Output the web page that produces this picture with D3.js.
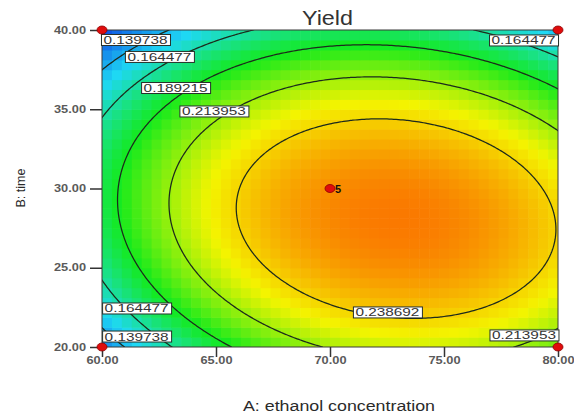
<!DOCTYPE html>
<html>
<head>
<meta charset="utf-8">
<script src="https://cdn.jsdelivr.net/npm/d3@7"></script>
<style>
  body { margin: 0; background: #fff; }
  svg { display: block; font-family: Arial, "Liberation Sans", sans-serif; }
</style>
</head>
<body>
<svg id="chart" width="574" height="418"></svg>
<script>
// Fitted quadratic response for Yield, in coded units:
// a = (A - 70) / 10, b = (B - 30) / 10
const modelTerms = ["Intercept", "A", "B", "AB", "A^2", "B^2"];
const modelCoefs = [0.2572, 0.0267, -0.0201, -0.0120, -0.0500, -0.0620];

// Contour levels drawn on the plot
const contourLevels = [0.139738, 0.164477, 0.189215, 0.213953, 0.238692];

// Axis ranges and ticks
const xDomain = [60, 80];
const yDomain = [20, 40];
const xTicks = [60, 65, 70, 75, 80];
const yTicks = [20, 25, 30, 35, 40];

// Design points (A, B) and replicate counts
const pointA = [60, 80, 60, 80, 70];
const pointB = [40, 40, 20, 20, 30];
const pointReps = [1, 1, 1, 1, 5];

// Contour label anchors: level shown, and where it sits (A, B)
const labelLevels = [0.139738, 0.164477, 0.189215, 0.213953, 0.164477, 0.164477, 0.139738, 0.238692, 0.213953];
const labelA = [61.49, 62.54, 63.25, 64.93, 78.51, 61.54, 61.54, 72.54, 78.53];
const labelB = [39.37, 38.30, 36.34, 34.86, 39.34, 22.43, 20.66, 22.18, 20.73];

const svg = d3.select("#chart");

const x = d3.scaleLinear().domain(xDomain).range([102, 558]);
const y = d3.scaleLinear().domain(yDomain).range([347, 30]);

function yieldAt(A, B) {
  const a = (A - 70) / 10, b = (B - 30) / 10, c = modelCoefs;
  return c[0] + c[1] * a + c[2] * b + c[3] * a * b + c[4] * a * a + c[5] * b * b;
}

// Blue -> cyan -> green -> yellow -> red ramp
const color = d3.scaleLinear()
  .domain([0.105, 0.15, 0.19, 0.23, 0.29])
  .range(["#0a28e0", "#1ed8f4", "#14ea1c", "#f4f400", "#ff1400"])
  .clamp(true);

const defs = svg.append("defs");
defs.append("clipPath").attr("id", "plotClip")
  .append("rect")
  .attr("x", x(xDomain[0])).attr("y", y(yDomain[1]))
  .attr("width", x(xDomain[1]) - x(xDomain[0]))
  .attr("height", y(yDomain[0]) - y(yDomain[1]));

// Shaded cells
const nCols = 46, nRows = 32;
const dA = (xDomain[1] - xDomain[0]) / nCols;
const dB = (yDomain[1] - yDomain[0]) / nRows;
const cells = [];
for (let j = 0; j < nRows; j++) {
  for (let i = 0; i < nCols; i++) {
    const A0 = xDomain[0] + i * dA, B0 = yDomain[0] + j * dB;
    cells.push({ A0, A1: A0 + dA, B0, B1: B0 + dB, v: yieldAt(A0 + dA / 2, B0 + dB / 2) });
  }
}
const fillG = svg.append("g").attr("clip-path", "url(#plotClip)");
fillG.selectAll("rect").data(cells).join("rect")
  .attr("x", d => x(d.A0))
  .attr("y", d => y(d.B1))
  .attr("width", d => x(d.A1) - x(d.A0) + 0.6)
  .attr("height", d => y(d.B0) - y(d.B1) + 0.6)
  .attr("fill", d => color(d.v));

// Contour lines from a fine grid of the model
const gn = 201, gm = 201;
const gridVals = new Array(gn * gm);
const stepA = (xDomain[1] - xDomain[0]) / (gn - 1);
const stepB = (yDomain[1] - yDomain[0]) / (gm - 1);
for (let j = 0; j < gm; j++) {
  for (let i = 0; i < gn; i++) {
    gridVals[j * gn + i] = yieldAt(xDomain[0] + i * stepA, yDomain[0] + j * stepB);
  }
}
const contours = d3.contours().size([gn, gm]).thresholds(contourLevels)(gridVals);
const proj = d3.geoTransform({
  point: function (gx, gy) {
    const A = xDomain[0] + (gx - 0.5) * stepA;
    const B = yDomain[0] + (gy - 0.5) * stepB;
    this.stream.point(x(A), y(B));
  }
});
const path = d3.geoPath(proj);
svg.append("g").attr("clip-path", "url(#plotClip)")
  .selectAll("path").data(contours).join("path")
  .attr("d", path)
  .attr("fill", "none")
  .attr("stroke", "#1c2a1c")
  .attr("stroke-width", 1.25);

// Plot frame
svg.append("rect")
  .attr("x", x(xDomain[0])).attr("y", y(yDomain[1]))
  .attr("width", x(xDomain[1]) - x(xDomain[0]))
  .attr("height", y(yDomain[0]) - y(yDomain[1]))
  .attr("fill", "none").attr("stroke", "#3a3a3a").attr("stroke-width", 1);

// Contour labels
const fmt = d3.format(".6f");
const labG = svg.append("g");
labelLevels.forEach((lv, k) => {
  const cx = x(labelA[k]), cy = y(labelB[k]);
  const g = labG.append("g").attr("transform", `translate(${cx},${cy})`);
  g.append("rect")
    .attr("x", -34.5).attr("y", -5.5).attr("width", 69).attr("height", 11)
    .attr("fill", "#fff").attr("stroke", "#26302a").attr("stroke-width", 1);
  g.append("text")
    .attr("x", -32.5).attr("y", 4)
    .attr("textLength", 64).attr("lengthAdjust", "spacingAndGlyphs")
    .attr("font-size", 11).attr("fill", "#333")
    .text(fmt(lv));
});

// Axes
const xAxis = d3.axisBottom(x).tickValues(xTicks).tickFormat(d3.format(".2f")).tickSize(10).tickSizeOuter(0);
const yAxis = d3.axisLeft(y).tickValues(yTicks).tickFormat(d3.format(".2f")).tickSize(12).tickSizeOuter(0);

const gx = svg.append("g").attr("transform", `translate(0,${y(yDomain[0])})`).call(xAxis);
const gy = svg.append("g").attr("transform", `translate(${x(xDomain[0])},0)`).call(yAxis);
[gx, gy].forEach(g => {
  g.select(".domain").remove();
  g.selectAll(".tick line").attr("stroke", "#333").attr("stroke-width", 1.5);
  g.selectAll(".tick text")
    .attr("font-family", "Arial, 'Liberation Sans', sans-serif")
    .attr("font-size", 10).attr("font-weight", "bold").attr("fill", "#5a5a5a")
    .attr("textLength", 32).attr("lengthAdjust", "spacingAndGlyphs");
});
gx.selectAll(".tick text").attr("dy", "0.6em").attr("y", 11);
gy.selectAll(".tick text").attr("x", -16);

// Design points
svg.append("g").selectAll("ellipse").data(pointA.map((a, k) => ({ A: a, B: pointB[k], n: pointReps[k] })))
  .join("ellipse")
  .attr("cx", d => x(d.A)).attr("cy", d => y(d.B))
  .attr("rx", 5).attr("ry", 4)
  .attr("fill", "#e00c0c").attr("stroke", "#8a0000").attr("stroke-width", 0.8);
svg.append("g").selectAll("text")
  .data(pointA.map((a, k) => ({ A: a, B: pointB[k], n: pointReps[k] })).filter(d => d.n > 1))
  .join("text")
  .attr("x", d => x(d.A) + 5).attr("y", d => y(d.B) + 4)
  .attr("font-size", 11).attr("font-weight", "bold").attr("fill", "#111")
  .text(d => d.n);

// Titles
svg.append("text")
  .attr("x", 327.5).attr("y", 25).attr("text-anchor", "middle")
  .attr("font-size", 20).attr("fill", "#333")
  .attr("textLength", 51).attr("lengthAdjust", "spacingAndGlyphs")
  .text("Yield");

svg.append("text")
  .attr("x", 339).attr("y", 411).attr("text-anchor", "middle")
  .attr("font-size", 14).attr("fill", "#2a2a2a")
  .attr("textLength", 192).attr("lengthAdjust", "spacingAndGlyphs")
  .text("A: ethanol concentration");

svg.append("text")
  .attr("transform", "translate(25,188) rotate(-90)")
  .attr("text-anchor", "middle")
  .attr("font-size", 13).attr("fill", "#2a2a2a")
  .attr("textLength", 39).attr("lengthAdjust", "spacingAndGlyphs")
  .text("B: time");
</script>
</body>
</html>
